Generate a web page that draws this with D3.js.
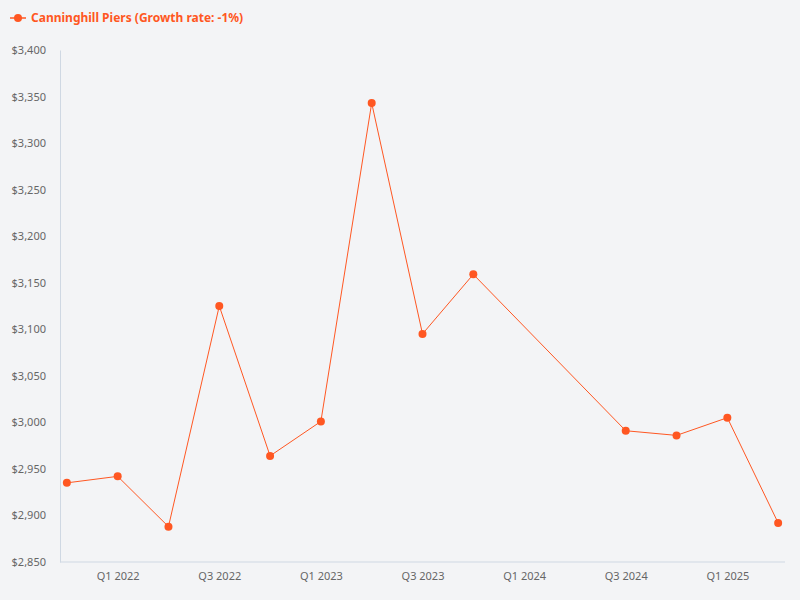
<!DOCTYPE html>
<html><head><meta charset="utf-8">
<script src="https://cdn.jsdelivr.net/npm/d3@7"></script>
<style>body{margin:0;background:#f3f4f6;font-family:"Noto Sans",sans-serif;}</style>
</head><body><svg id="c" width="800" height="600"></svg>
<script>
const quarters = ['Q4 2021','Q1 2022','Q2 2022','Q3 2022','Q4 2022','Q1 2023','Q2 2023','Q3 2023','Q4 2023','Q1 2024','Q2 2024','Q3 2024','Q4 2024','Q1 2025','Q2 2025'];
const prices = [2935, 2942, 2888, 3125, 2964, 3001, 3343, 3095, 3159, null, null, 2991, 2986, 3005, 2892];
const tickLabels = ['Q1 2022','Q3 2022','Q1 2023','Q3 2023','Q1 2024','Q3 2024','Q1 2025'];
const seriesName = 'Canninghill Piers (Growth rate: -1%)';
const color = '#ff5722';

const svg = d3.select('#c');
const x = d3.scalePoint().domain(quarters).range([60, 785]).padding(0.135);
const y = d3.scaleLinear().domain([2850, 3400]).range([562, 50]);

const yAxis = svg.append('g').attr('transform', 'translate(60,0)')
  .call(d3.axisLeft(y).tickValues(d3.range(2850, 3401, 50)).tickSize(0).tickPadding(14).tickFormat(d => '$' + d3.format(',')(d)));
yAxis.select('.domain').attr('stroke', '#cfd8e3');
yAxis.selectAll('text').attr('fill', '#666').style('font-size', '11px').style('font-family', '"Noto Sans",sans-serif');

const xAxis = svg.append('g').attr('transform', 'translate(0,562)')
  .call(d3.axisBottom(x).tickValues(tickLabels).tickSize(0).tickPadding(10));
xAxis.select('.domain').attr('stroke', '#cfd8e3').attr('d', 'M60,0H785');
xAxis.selectAll('text').attr('fill', '#666').style('font-size', '11px').style('font-family', '"Noto Sans",sans-serif');

const data = quarters.map((q, i) => ({q, v: prices[i]})).filter(d => d.v != null);
svg.append('path').datum(data)
  .attr('fill', 'none').attr('stroke', color).attr('stroke-width', 1)
  .attr('d', d3.line().x(d => x(d.q)).y(d => y(d.v)));
svg.selectAll('circle.pt').data(data).enter().append('circle')
  .attr('class', 'pt').attr('cx', d => x(d.q)).attr('cy', d => y(d.v)).attr('r', 4).attr('fill', color);

const lg = svg.append('g').attr('transform', 'translate(10,18)');
lg.append('line').attr('x1', 0).attr('x2', 16).attr('stroke', color).attr('stroke-width', 1.5);
lg.append('circle').attr('cx', 8).attr('r', 4).attr('fill', color);
lg.append('text').attr('x', 21).attr('dy', '0.35em').attr('fill', color)
  .style('font-size', '12px').style('font-weight', 'bold').text(seriesName);
</script></body></html>
